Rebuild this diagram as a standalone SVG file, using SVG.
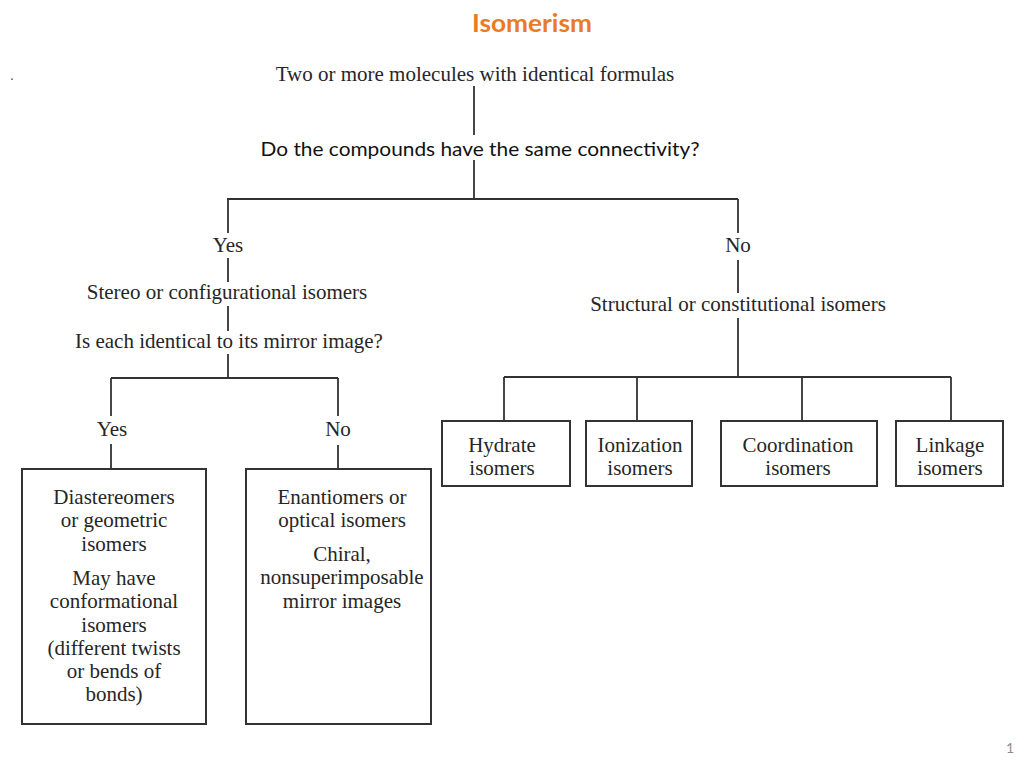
<svg xmlns="http://www.w3.org/2000/svg" width="1024" height="768" viewBox="0 0 1024 768">
<style>
.t{font-family:"Liberation Serif","Times New Roman",serif;font-size:21px;fill:#262626;text-anchor:middle}
.c{fill:none;stroke:#333333;stroke-width:1.8}
.b{fill:#ffffff;stroke:#333333;stroke-width:2}
</style>
<rect width="1024" height="768" fill="#ffffff"/>
<text x="532" y="32" font-family="Lato,'Open Sans',sans-serif" font-size="24" font-weight="bold" fill="#EB7A26" text-anchor="middle" textLength="120" lengthAdjust="spacingAndGlyphs">Isomerism</text>
<text x="10" y="80" font-family="'Liberation Sans',sans-serif" font-size="14" fill="#446">.</text>
<text x="1010" y="753" font-family="Lato,'Liberation Sans',sans-serif" font-size="14" fill="#8c8c8c" text-anchor="middle">1</text>

<g id="connectors">
<path class="c" d="M474 86V135M474 160V199M227 199H738M228 199V233M228 258V282M228 306V331M228 354V378M111 378H338M111 378V416M111 444V469M338 378V416M338 445V469M738 199V233M738 260V293M738 318V377M504 377H951M504 377V421M637 377V421M802 377V421M951 377V421"/>
</g>

<g id="n-root"><text class="t" x="475" y="81">Two or more molecules with identical formulas</text></g>
<g id="n-question"><text x="480" y="156" font-family="Lato,'Open Sans',sans-serif" font-size="20" fill="#111" text-anchor="middle" textLength="439" lengthAdjust="spacingAndGlyphs">Do the compounds have the same connectivity?</text></g>
<g id="n-yes1"><text class="t" x="228" y="252">Yes</text></g>
<g id="n-stereo"><text class="t" x="227" y="299">Stereo or configurational isomers</text></g>
<g id="n-mirror"><text class="t" x="229" y="348">Is each identical to its mirror image?</text></g>
<g id="n-yes2"><text class="t" x="112" y="436">Yes</text></g>
<g id="n-no2"><text class="t" x="338" y="436">No</text></g>
<g id="n-diastereomers">
<rect class="b" x="22" y="469" width="184" height="255"/>
<text class="t" x="114" y="504">Diastereomers</text>
<text class="t" x="114" y="527">or geometric</text>
<text class="t" x="114" y="551">isomers</text>
<text class="t" x="114" y="585">May have</text>
<text class="t" x="114" y="608">conformational</text>
<text class="t" x="114" y="632">isomers</text>
<text class="t" x="114" y="655">(different twists</text>
<text class="t" x="114" y="678">or bends of</text>
<text class="t" x="114" y="701">bonds)</text>
</g>
<g id="n-enantiomers">
<rect class="b" x="246" y="469" width="185" height="255"/>
<text class="t" x="342" y="504">Enantiomers or</text>
<text class="t" x="342" y="527">optical isomers</text>
<text class="t" x="342" y="561">Chiral,</text>
<text class="t" x="342" y="584">nonsuperimposable</text>
<text class="t" x="342" y="608">mirror images</text>
</g>
<g id="n-no1"><text class="t" x="738" y="252">No</text></g>
<g id="n-structural"><text class="t" x="738" y="311">Structural or constitutional isomers</text></g>
<g id="n-hydrate">
<rect class="b" x="442" y="421" width="128" height="65"/>
<text class="t" x="502" y="452">Hydrate</text>
<text class="t" x="502" y="475">isomers</text>
</g>
<g id="n-ionization">
<rect class="b" x="586" y="421" width="106" height="65"/>
<text class="t" x="640" y="452">Ionization</text>
<text class="t" x="640" y="475">isomers</text>
</g>
<g id="n-coordination">
<rect class="b" x="721" y="421" width="156" height="65"/>
<text class="t" x="798" y="452">Coordination</text>
<text class="t" x="798" y="475">isomers</text>
</g>
<g id="n-linkage">
<rect class="b" x="896" y="421" width="107" height="65"/>
<text class="t" x="950" y="452">Linkage</text>
<text class="t" x="950" y="475">isomers</text>
</g>
</svg>
